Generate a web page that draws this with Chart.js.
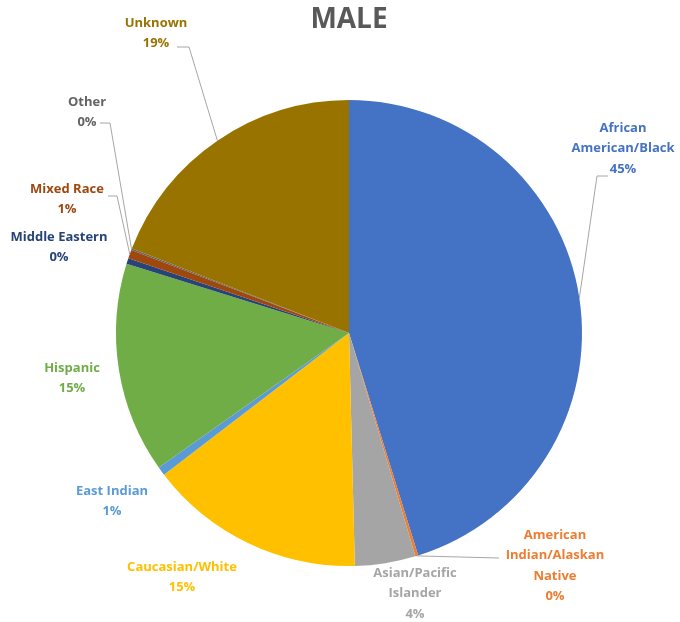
<!DOCTYPE html>
<html>
<head>
<meta charset="utf-8">
<title>MALE</title>
<script src="https://cdn.jsdelivr.net/npm/chart.js@4.4.1/dist/chart.umd.min.js"></script>
<style>
  html, body { margin: 0; padding: 0; background: #fff; }
  #wrap { width: 680px; height: 622px; }
</style>
</head>
<body>
<div id="wrap"><canvas id="pieChart" width="680" height="622"></canvas></div>
<script>
  // Categories (one entry per slice, split into display lines)
  const categories = [
    ["African", "American/Black"],
    ["American", "Indian/Alaskan", "Native"],
    ["Asian/Pacific", "Islander"],
    ["Caucasian/White"],
    ["East Indian"],
    ["Hispanic"],
    ["Middle Eastern"],
    ["Mixed Race"],
    ["Other"],
    ["Unknown"]
  ];

  // Share of males, in percent
  const malePercent = [45.2, 0.2, 4.2, 15.0, 0.6, 14.6, 0.4, 0.6, 0.1, 19.1];

  const sliceColors = [
    "#4472C4", "#ED7D31", "#A5A5A5", "#FFC000", "#5B9BD5",
    "#70AD47", "#264478", "#9E480E", "#636363", "#997300"
  ];

  // Where each data label sits: text centre x, first line y,
  // and the elbow of its leader line (null = no leader)
  const labelSpots = [
    { x: 623, y: 128, from: [608, 176], elbow: [597, 176] },
    { x: 555, y: 535, from: [499, 558], elbow: null },
    { x: 415, y: 573, from: null },
    { x: 182, y: 567, from: null },
    { x: 112, y: 491, from: null },
    { x: 72,  y: 368, from: null },
    { x: 59,  y: 237, from: null },
    { x: 67,  y: 189, from: [108, 196], elbow: [117, 196] },
    { x: 87,  y: 102, from: [100, 123], elbow: [110, 123] },
    { x: 156, y: 23,  from: [177, 47], elbow: [189, 47] }
  ];

  const LINE_H = 20.5;

  // Title plus outside labels with leader lines
  const outsideLabels = {
    id: "outsideLabels",
    afterDatasetsDraw(chart) {
      const ctx = chart.ctx;
      const arcs = chart.getDatasetMeta(0).data;

      ctx.save();
      ctx.fillStyle = "#595959";
      ctx.font = "bold 28px 'Open Sans'";
      ctx.textAlign = "center";
      ctx.textBaseline = "middle";
      ctx.fillText("MALE", 349, 20);

      ctx.strokeStyle = "#A6A6A6";
      ctx.lineWidth = 1;
      arcs.forEach((arc, i) => {
        const spot = labelSpots[i];
        if (!spot.from) return;
        const mid = (arc.startAngle + arc.endAngle) / 2;
        const ex = arc.x + Math.cos(mid) * arc.outerRadius;
        const ey = arc.y + Math.sin(mid) * arc.outerRadius;
        ctx.beginPath();
        ctx.moveTo(spot.from[0], spot.from[1]);
        if (spot.elbow) ctx.lineTo(spot.elbow[0], spot.elbow[1]);
        ctx.lineTo(ex, ey);
        ctx.stroke();
      });

      ctx.font = "bold 13px 'Open Sans'";
      arcs.forEach((arc, i) => {
        const spot = labelSpots[i];
        const lines = categories[i].concat([Math.round(malePercent[i]) + "%"]);
        ctx.fillStyle = sliceColors[i];
        lines.forEach((t, k) => ctx.fillText(t, spot.x, spot.y + k * LINE_H));
      });
      ctx.restore();
    }
  };

  new Chart(document.getElementById("pieChart"), {
    type: "pie",
    data: {
      labels: categories,
      datasets: [{
        data: malePercent,
        backgroundColor: sliceColors,
        borderWidth: 0
      }]
    },
    options: {
      responsive: false,
      animation: false,
      layout: { padding: { top: 100, bottom: 56, left: 18, right: 0 } },
      plugins: {
        legend: { display: false },
        title: { display: false },
        tooltip: { enabled: false }
      }
    },
    plugins: [outsideLabels]
  });
</script>
</body>
</html>
